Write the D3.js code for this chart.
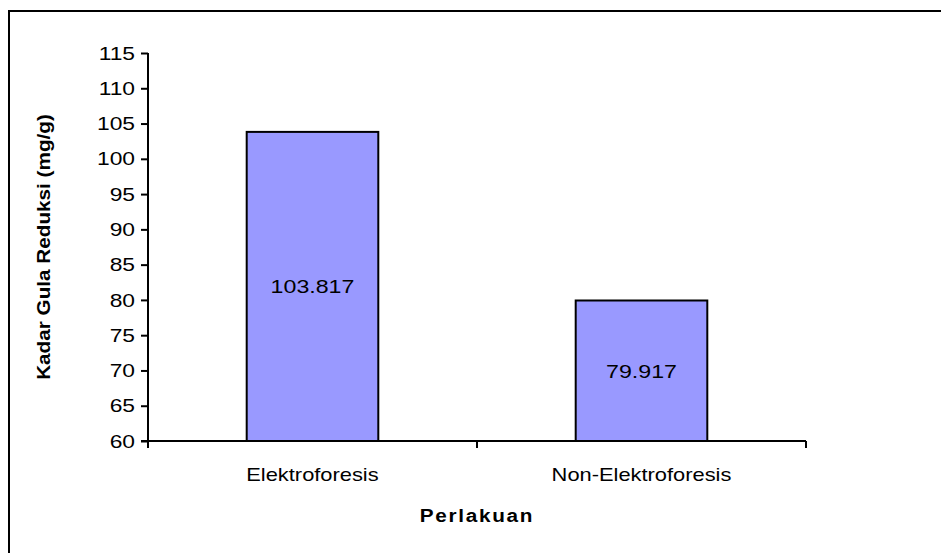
<!DOCTYPE html>
<html>
<head>
<meta charset="utf-8">
<script src="https://cdn.jsdelivr.net/npm/d3@7"></script>
<style>
  html, body { margin: 0; padding: 0; background: #fff; }
  svg { display: block; font-family: "Liberation Sans", Arial, sans-serif; }
</style>
</head>
<body>
<svg id="chart" width="941" height="553"></svg>
<script>
// Reducing sugar content per treatment
const categories = ["Elektroforesis", "Non-Elektroforesis"];
const values = [103.817, 79.917];
const valueLabels = ["103.817", "79.917"];
const yTicks = [60, 65, 70, 75, 80, 85, 90, 95, 100, 105, 110, 115];
const yTitle = "Kadar Gula Reduksi (mg/g)";
const xTitle = "Perlakuan";

const svg = d3.select("#chart");

// widen text glyphs horizontally by factor k
function stretch(sel, k) {
  sel.each(function () {
    const w = this.getComputedTextLength();
    d3.select(this)
      .attr("textLength", w * k)
      .attr("lengthAdjust", "spacingAndGlyphs");
  });
}

// chart frame (open to the right and bottom)
svg.append("rect")
  .attr("x", 9).attr("y", 11)
  .attr("width", 1000).attr("height", 600)
  .attr("fill", "none").attr("stroke", "#000").attr("stroke-width", 2);

const plot = { left: 148, right: 806, top: 53, bottom: 441 };

const x = d3.scaleBand()
  .domain(categories)
  .range([plot.left, plot.right])
  .paddingInner(0.6)
  .paddingOuter(0.3);

const y = d3.scaleLinear()
  .domain([60, 115])
  .range([plot.bottom, plot.top]);

// bars
svg.append("g").selectAll("rect")
  .data(categories)
  .join("rect")
  .attr("x", d => x(d))
  .attr("y", (d, i) => y(values[i]))
  .attr("width", x.bandwidth())
  .attr("height", (d, i) => y(60) - y(values[i]))
  .attr("fill", "#9999ff")
  .attr("stroke", "#000")
  .attr("stroke-width", 2);

// value labels inside bars
const valText = svg.append("g").selectAll("text")
  .data(categories)
  .join("text")
  .attr("x", d => x(d) + x.bandwidth() / 2)
  .attr("y", (d, i) => (y(values[i]) + y(60)) / 2 + 7)
  .attr("text-anchor", "middle")
  .attr("font-size", 19)
  .attr("fill", "#000")
  .text((d, i) => valueLabels[i]);
stretch(valText, 1.22);

// y axis
const yAxis = svg.append("g")
  .attr("transform", `translate(${plot.left},0)`)
  .call(d3.axisLeft(y).tickValues(yTicks).tickSize(7).tickPadding(6).tickFormat(d3.format("d")));
yAxis.select(".domain").attr("stroke", "#000").attr("stroke-width", 2)
  .attr("d", `M0,${plot.top}V${plot.bottom}`);
yAxis.selectAll(".tick line").attr("stroke", "#000").attr("stroke-width", 2);
const tickText = yAxis.selectAll(".tick text").attr("font-size", 19).attr("fill", "#000")
  .attr("font-family", "Liberation Sans, Arial, sans-serif");
stretch(tickText, 1.2);

// x axis: ticks at category boundaries
const xLine = svg.append("g");
xLine.append("line")
  .attr("x1", plot.left - 7).attr("x2", plot.right)
  .attr("y1", plot.bottom).attr("y2", plot.bottom)
  .attr("stroke", "#000").attr("stroke-width", 2);
const boundaries = [plot.left, plot.left + (plot.right - plot.left) / 2, plot.right];
xLine.selectAll("line.tk")
  .data(boundaries)
  .join("line")
  .attr("class", "tk")
  .attr("x1", d => d).attr("x2", d => d)
  .attr("y1", plot.bottom).attr("y2", plot.bottom + 7)
  .attr("stroke", "#000").attr("stroke-width", 2);

const catText = svg.append("g").selectAll("text")
  .data(categories)
  .join("text")
  .attr("x", d => x(d) + x.bandwidth() / 2)
  .attr("y", 481)
  .attr("text-anchor", "middle")
  .attr("font-size", 19)
  .attr("fill", "#000")
  .text(d => d);
stretch(catText, 1.15);

// axis titles
const yt = svg.append("text")
  .attr("transform", `translate(50,${(plot.top + plot.bottom) / 2}) rotate(-90)`)
  .attr("text-anchor", "middle")
  .attr("font-size", 18)
  .attr("font-weight", "bold")
  .attr("fill", "#000")
  .text(yTitle);
stretch(yt, 1.15);

const xt = svg.append("text")
  .attr("x", (plot.left + plot.right) / 2)
  .attr("y", 522)
  .attr("text-anchor", "middle")
  .attr("font-size", 18)
  .attr("font-weight", "bold")
  .attr("fill", "#000")
  .attr("letter-spacing", 1.5)
  .text(xTitle);
stretch(xt, 1.15);
</script>
</body>
</html>
